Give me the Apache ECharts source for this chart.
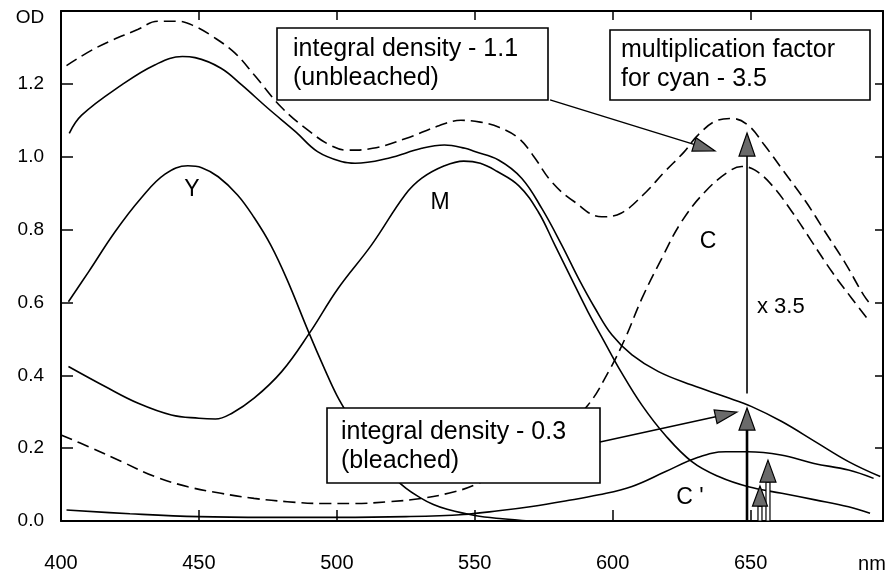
<!DOCTYPE html>
<html><head><meta charset="utf-8">
<script src="https://cdn.jsdelivr.net/npm/echarts@6/dist/echarts.min.js"></script>
<style>html,body{margin:0;padding:0;background:#fff}#c{width:888px;height:575px}</style>
</head><body><div id="c"></div>
<script>
// ---- data (wavelength nm, optical density) ----
const xTickLabels = ['400','450','500','550','600','650'];
const yTickLabels = ['0.0','0.2','0.4','0.6','0.8','1.0','1.2'];
const axisUnitX = 'nm';
const axisUnitY = 'OD';

const unbleachedNm = [402,413,428,435,442,448,455,463,470,480,490,498,504,513,525,537,545,552,559,566,571,578,586,596,603,611,619,626,631,638,643,649,655,662,670,677,684,691,694];
const unbleachedOD = [1.25,1.30,1.35,1.372,1.372,1.36,1.33,1.285,1.225,1.135,1.07,1.03,1.018,1.023,1.05,1.085,1.10,1.095,1.08,1.05,1.005,0.93,0.877,0.835,0.845,0.895,0.96,1.014,1.06,1.10,1.105,1.087,1.032,0.96,0.877,0.794,0.712,0.62,0.59];

const bleachedNm = [403,407.5,422,434,444,448.6,458,465.5,475,485,493,502,506.6,518.7,530.8,539,546.5,550,558.6,567,574.3,581.5,587.6,593.6,599.7,607,616.6,628.7,640.8,650.4,661.3,673.4,685.5,697];
const bleachedOD = [1.064,1.114,1.197,1.252,1.275,1.272,1.243,1.197,1.133,1.069,1.014,0.986,0.982,0.996,1.023,1.032,1.023,1.014,0.991,0.941,0.858,0.758,0.666,0.584,0.511,0.456,0.41,0.373,0.341,0.314,0.273,0.218,0.163,0.122];

const yellowNm = [402.7,410,419.6,429,437.7,446,451,457,464,470,476,482,489.7,495.7,500,505,510,515,520,525,530,535,540,550,560,570];
const yellowOD = [0.602,0.684,0.794,0.886,0.952,0.975,0.97,0.945,0.895,0.833,0.758,0.662,0.52,0.415,0.345,0.28,0.22,0.165,0.125,0.09,0.065,0.045,0.032,0.015,0.006,0.0];

const magentaNm = [402.7,416,428,440,450,456,462,470,480,490,500.5,512.6,524.7,530.8,539,546,552,558,566,573,579,585,591,597,603,610.6,619,628.7,638.4,649.2,661.3,673.4,685.5,693.3];
const magentaOD = [0.424,0.369,0.323,0.291,0.282,0.28,0.296,0.337,0.41,0.515,0.639,0.758,0.895,0.941,0.975,0.988,0.982,0.96,0.92,0.849,0.758,0.666,0.575,0.492,0.41,0.318,0.236,0.163,0.122,0.094,0.076,0.058,0.039,0.021];

const cyanNm = [400,410,422,434,446,458,470,482,494.5,506.6,518.7,530.8,543,550,560,570,580,591,598.5,604.5,610.6,617.8,625,633.5,642,646.8,651.6,657.7,665,672.2,679.5,686.7,692.7];
const cyanOD = [0.236,0.204,0.163,0.122,0.094,0.076,0.062,0.053,0.048,0.048,0.053,0.062,0.081,0.099,0.135,0.18,0.24,0.318,0.41,0.501,0.611,0.721,0.822,0.904,0.959,0.973,0.963,0.922,0.849,0.767,0.684,0.611,0.552];

const cyanBleachedNm = [402,425,450,475,500,525,546,558.6,570.7,582.8,595,607,619,631,641,649,661,673,685.5,694.6];
const cyanBleachedOD = [0.03,0.02,0.012,0.01,0.01,0.012,0.018,0.028,0.04,0.055,0.072,0.095,0.135,0.175,0.19,0.19,0.181,0.158,0.14,0.117];

// annotation arrows in data coordinates [nm, OD]
const arrowUnbleached = {from:[577.3,1.156], to:[637.1,1.016]};
const arrowFactor = {from:[648.7,0.35], to:[648.7,1.065]};
const arrowBleachedSum = {from:[648.7,0.0], to:[648.7,0.31]};
const arrowBleachedLabel = {from:[595.4,0.217], to:[645.1,0.299]};
const arrowSmall1 = {from:[653.4,0.0], to:[653.4,0.096]};
const arrowSmall2 = {from:[656.3,0.0], to:[656.3,0.167]};

// ---- chart ----
const FONT = '"Liberation Sans", Arial, Helvetica, sans-serif';
const chart = echarts.init(document.getElementById('c'), null, {renderer:'canvas'});
const pair = (a,b) => a.map((x,i) => [x,b[i]]);
const lineSeries = (name, nm, od, dashed) => ({
  type:'line', name, data: pair(nm,od), showSymbol:false, smooth:0.4, silent:true,
  lineStyle:{color:'#000', width:1.6, type: dashed ? [12,6] : 'solid'}, z:3
});
const xLab = v => { const s = String(Math.round(v)); return (Math.abs(v - Math.round(v)) < 1e-6 && xTickLabels.includes(s)) ? s : ''; };
const yLab = v => { const s = v.toFixed(1); return yTickLabels.includes(s) ? s : ''; };
const axisCommon = {
  axisLine:{show:true, onZero:false, lineStyle:{color:'#000', width:2}},
  splitLine:{show:false}
};
chart.setOption({
  animation:false,
  backgroundColor:'#fff',
  grid:{left:61, top:11, width:822, height:510},
  xAxis:[
    Object.assign({type:'value', min:400, max:698, interval:50, position:'bottom',
      axisTick:{inside:true, length:11, lineStyle:{color:'#000', width:1.5}},
      axisLabel:{formatter:xLab, fontSize:20, color:'#000', margin:32, fontFamily:FONT}}, axisCommon),
    Object.assign({type:'value', min:400, max:698, interval:50, position:'top',
      axisTick:{inside:true, length:9, lineStyle:{color:'#000', width:1.5}},
      axisLabel:{show:false}}, axisCommon)
  ],
  yAxis:[
    Object.assign({type:'value', min:0, max:1.4, interval:0.2, position:'left',
      axisTick:{inside:true, length:12, lineStyle:{color:'#000', width:1.5}},
      axisLabel:{formatter:yLab, fontSize:19, color:'#000', margin:17, fontFamily:FONT}}, axisCommon),
    Object.assign({type:'value', min:0, max:1.4, interval:0.2, position:'right',
      axisTick:{inside:true, length:8, lineStyle:{color:'#000', width:1.5}},
      axisLabel:{show:false}}, axisCommon)
  ],
  series:[
    lineSeries('unbleached', unbleachedNm, unbleachedOD, true),
    lineSeries('bleached', bleachedNm, bleachedOD, false),
    lineSeries('Y', yellowNm, yellowOD, false),
    lineSeries('M', magentaNm, magentaOD, false),
    lineSeries('C', cyanNm, cyanOD, true),
    lineSeries("C'", cyanBleachedNm, cyanBleachedOD, false)
  ]
});

const P = p => chart.convertToPixel({gridIndex:0}, p);
function arrow(spec, L, W, shaftW, hollow) {
  const a = P(spec.from), t = P(spec.to);
  const dx = t[0]-a[0], dy = t[1]-a[1], len = Math.hypot(dx,dy);
  const ux = dx/len, uy = dy/len, px = -uy, py = ux;
  const bx = t[0]-ux*L, by = t[1]-uy*L;
  const out = [];
  if (hollow) {
    out.push({type:'polygon', z:20, shape:{points:[[a[0]+px*2,a[1]+py*2],[bx+px*2,by+py*2],[bx-px*2,by-py*2],[a[0]-px*2,a[1]-py*2]]},
      style:{fill:'#fff', stroke:'#000', lineWidth:1.2}});
  } else {
    out.push({type:'line', z:20, shape:{x1:a[0], y1:a[1], x2:bx, y2:by}, style:{stroke:'#000', lineWidth:shaftW}});
  }
  out.push({type:'polygon', z:21, shape:{points:[[t[0],t[1]],[bx+px*W/2,by+py*W/2],[bx-px*W/2,by-py*W/2]]},
    style:{fill:'#6a6a6a', stroke:'#000', lineWidth:1.2}});
  return out;
}
function box(x,y,w,h,tx,ty,txt) {
  return [
    {type:'rect', z:15, shape:{x, y, width:w, height:h}, style:{fill:'#fff', stroke:'#000', lineWidth:1.6}},
    {type:'text', z:16, x:tx, y:ty, style:{text:txt, font:'25px '+FONT, fill:'#000', lineHeight:29, textVerticalAlign:'top', verticalAlign:'top'}}
  ];
}
function label(x,y,txt,size) {
  return {type:'text', z:16, x, y, style:{text:txt, font:(size||22)+'px '+FONT, fill:'#000', textAlign:'center', align:'center', textVerticalAlign:'middle', verticalAlign:'middle'}};
}
const g = [].concat(
  box(277,28,271,72,293,35,'integral density - 1.1\n(unbleached)'),
  box(610,30,260,70,621,36,'multiplication factor\nfor cyan - 3.5'),
  box(327,408,273,75,341,418,'integral density - 0.3\n(bleached)'),
  arrow(arrowUnbleached, 22, 14, 1.5),
  arrow(arrowFactor, 23, 16, 1.6),
  arrow(arrowBleachedSum, 22, 16, 2.6),
  arrow(arrowBleachedLabel, 22, 14, 1.5),
  arrow(arrowSmall1, 20, 15, 1, true),
  arrow(arrowSmall2, 22, 16, 1, true),
  [label(192,190,'Y',23), label(440,203,'M',23), label(708,242,'C',23),
   {type:'text', z:16, x:757, y:307, style:{text:'x 3.5', font:'22px '+FONT, fill:'#000', textVerticalAlign:'middle', verticalAlign:'middle'}},
   label(690,498,"C '",23),
   {type:'text', z:16, x:872, y:564, style:{text:axisUnitX, font:'20px '+FONT, fill:'#000', textAlign:'center', align:'center', textVerticalAlign:'middle', verticalAlign:'middle'}},
   {type:'text', z:16, x:30, y:18, style:{text:axisUnitY, font:'19px '+FONT, fill:'#000', textAlign:'center', align:'center', textVerticalAlign:'middle', verticalAlign:'middle'}}]
);
chart.setOption({graphic:{elements:g}});
</script>
</body></html>
